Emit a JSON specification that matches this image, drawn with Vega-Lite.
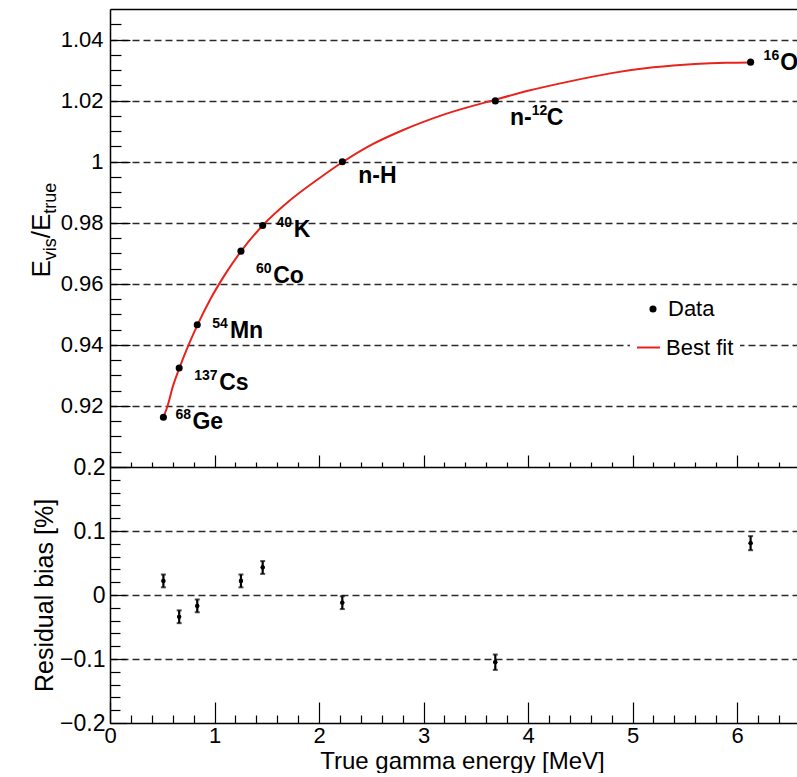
{
  "$schema": "https://vega.github.io/schema/vega-lite/v6.json",
  "background": "white",
  "padding": {"left": 28, "top": 9, "right": 0, "bottom": 0},
  "bounds": "flush",
  "spacing": 0,
  "config": {
    "font": "Liberation Sans",
    "view": {"stroke": null},
    "axis": {"domainColor": "black", "domainWidth": 1.5, "tickColor": "black", "tickWidth": 1.2, "labelColor": "black", "titleColor": "black", "titleFontWeight": "normal", "labelFlush": false, "labelOverlap": false, "labelBound": false, "gridColor": "#2a2a2a", "gridDash": [7, 4], "gridWidth": 1.3},
    "legend": {"labelFont": "Liberation Sans", "labelFontSize": 22, "labelColor": "black", "padding": 6, "fillColor": "white", "strokeColor": null}
  },
  "datasets": {
    "fit": [
      {"E": 0.511, "R": 0.9163}, {"E": 0.551, "R": 0.9200}, {"E": 0.6, "R": 0.9262}, {"E": 0.662, "R": 0.9322},
      {"E": 0.75, "R": 0.9398}, {"E": 0.835, "R": 0.9464}, {"E": 0.95, "R": 0.9543}, {"E": 1.1, "R": 0.9630},
      {"E": 1.253, "R": 0.9706}, {"E": 1.461, "R": 0.9791}, {"E": 1.7, "R": 0.9867}, {"E": 2.0, "R": 0.9945},
      {"E": 2.223, "R": 0.9998}, {"E": 2.5, "R": 1.0055}, {"E": 2.8, "R": 1.0103}, {"E": 3.2, "R": 1.0155},
      {"E": 3.687, "R": 1.0203}, {"E": 4.0, "R": 1.0232}, {"E": 4.4, "R": 1.0263}, {"E": 4.8, "R": 1.0290},
      {"E": 5.2, "R": 1.0309}, {"E": 5.6, "R": 1.0320}, {"E": 5.9, "R": 1.0324}, {"E": 6.13, "R": 1.0325}
    ],
    "pts": [
      {"id": "Ge", "pre": "", "sup": "68", "name": "Ge", "E": 0.511, "R": 0.9163},
      {"id": "Cs", "pre": "", "sup": "137", "name": "Cs", "E": 0.662, "R": 0.9324},
      {"id": "Mn", "pre": "", "sup": "54", "name": "Mn", "E": 0.835, "R": 0.9466},
      {"id": "Co", "pre": "", "sup": "60", "name": "Co", "E": 1.253, "R": 0.9707},
      {"id": "K", "pre": "", "sup": "40", "name": "K", "E": 1.461, "R": 0.9791},
      {"id": "H", "pre": "", "sup": "", "name": "n-H", "E": 2.223, "R": 1.0000},
      {"id": "C", "pre": "n-", "sup": "12", "name": "C", "E": 3.687, "R": 1.0199},
      {"id": "O", "pre": "", "sup": "16", "name": "O", "E": 6.13, "R": 1.0326}
    ],
    "res": [
      {"E": 0.511, "B": 0.022, "err": 0.010},
      {"E": 0.662, "B": -0.034, "err": 0.010},
      {"E": 0.835, "B": -0.017, "err": 0.010},
      {"E": 1.253, "B": 0.022, "err": 0.010},
      {"E": 1.461, "B": 0.043, "err": 0.010},
      {"E": 2.223, "B": -0.012, "err": 0.010},
      {"E": 3.687, "B": -0.105, "err": 0.012},
      {"E": 6.13, "B": 0.081, "err": 0.011}
    ]
  },
  "vconcat": [
    {
      "width": 687,
      "height": 458,
      "resolve": {"axis": {"x": "independent", "y": "independent"}},
      "layer": [
        {
          "data": {"name": "fit"},
          "mark": {"type": "line", "strokeWidth": 2, "clip": true, "interpolate": "monotone"},
          "encoding": {
            "x": {"field": "E", "type": "quantitative", "scale": {"domain": [0, 6.574], "nice": false, "zero": false},
              "axis": {"orient": "bottom", "title": null, "labels": false, "grid": false,
                "values": [0,0.2,0.4,0.6,0.8,1,1.2,1.4,1.6,1.8,2,2.2,2.4,2.6,2.8,3,3.2,3.4,3.6,3.8,4,4.2,4.4,4.6,4.8,5,5.2,5.4,5.6,5.8,6,6.2,6.4],
                "tickSize": {"condition": {"test": "abs(datum.value - round(datum.value)) < 0.001", "value": -12}, "value": -5}}},
            "y": {"field": "R", "type": "quantitative", "scale": {"domain": [0.9, 1.05], "nice": false, "zero": false},
              "axis": {"orient": "left", "title": "E", "titleFontSize": 26, "titleX": -61, "titleY": 268, "titleAngle": -90, "titleAlign": "left", "titleBaseline": "alphabetic",
                "labelFontSize": 22, "labelPadding": 7, "format": "~g", "ticks": false,
                "values": [0.92, 0.94, 0.96, 0.98, 1, 1.02, 1.04], "grid": true}},
            "stroke": {"datum": "Best fit", "scale": {"domain": ["Best fit"], "range": ["#e8231c"]},
              "legend": {"title": null, "orient": "none", "legendX": 520, "legendY": 320, "symbolType": "stroke", "symbolSize": 529, "symbolStrokeWidth": 2, "labelOffset": 5}}
          }
        },
        {
          "data": {"name": "pts"},
          "mark": {"type": "point", "filled": true, "opacity": 1, "size": 50},
          "encoding": {
            "x": {"field": "E", "type": "quantitative", "axis": {"orient": "top", "title": null, "labels": false, "ticks": false, "grid": false}},
            "y": {"field": "R", "type": "quantitative",
              "axis": {"orient": "left", "title": "vis", "titleFontSize": 18, "titleX": -55, "titleY": 250.7, "titleAngle": -90, "titleAlign": "left", "titleBaseline": "alphabetic",
                "labels": false, "domain": false, "grid": false,
                "values": [0.9,0.905,0.91,0.915,0.92,0.925,0.93,0.935,0.94,0.945,0.95,0.955,0.96,0.965,0.97,0.975,0.98,0.985,0.99,0.995,1,1.005,1.01,1.015,1.02,1.025,1.03,1.035,1.04,1.045],
                "tickSize": {"condition": {"test": "abs(datum.value*50 - round(datum.value*50)) < 0.001", "value": -20}, "value": -11}}},
            "color": {"datum": "Data", "scale": {"domain": ["Data"], "range": ["black"]},
              "legend": {"title": null, "orient": "none", "legendX": 526, "legendY": 283, "symbolType": "circle", "symbolSize": 50, "labelOffset": 4}}
          }
        },
        {"data": {"name": "pts"}, "transform": [{"filter": "datum.id === 'Ge'"}],
          "mark": {"type": "text", "align": "left", "baseline": "alphabetic", "dx": 12, "dy": 1.5, "fontSize": 14, "fontWeight": "bold", "clip": true},
          "encoding": {"x": {"field": "E", "type": "quantitative", "axis": null},
            "y": {"field": "R", "type": "quantitative", "axis": {"orient": "left", "title": "/E", "titleFontSize": 26, "titleX": -61, "titleY": 228.7, "titleAngle": -90, "titleAlign": "left", "titleBaseline": "alphabetic", "labels": false, "ticks": false, "domain": false, "grid": false, "values": [1]}},
            "text": {"field": "sup"}}},
        {"data": {"name": "pts"}, "transform": [{"filter": "datum.id === 'Ge'"}],
          "mark": {"type": "text", "align": "left", "baseline": "alphabetic", "dx": 29, "dy": 11.5, "fontSize": 23, "fontWeight": "bold", "clip": true},
          "encoding": {"x": {"field": "E", "type": "quantitative", "axis": null},
            "y": {"field": "R", "type": "quantitative", "axis": {"orient": "left", "title": "true", "titleFontSize": 18, "titleX": -55, "titleY": 204.2, "titleAngle": -90, "titleAlign": "left", "titleBaseline": "alphabetic", "labels": false, "ticks": false, "domain": false, "grid": false, "values": [1]}},
            "text": {"field": "name"}}},
        {"data": {"name": "pts"}, "transform": [{"filter": "datum.id === 'Cs'"}],
          "mark": {"type": "text", "align": "left", "baseline": "alphabetic", "dx": 15, "dy": 11.7, "fontSize": 14, "fontWeight": "bold", "clip": true},
          "encoding": {"x": {"field": "E", "type": "quantitative", "axis": null}, "y": {"field": "R", "type": "quantitative", "axis": null}, "text": {"field": "sup"}}},
        {"data": {"name": "pts"}, "transform": [{"filter": "datum.id === 'Cs'"}],
          "mark": {"type": "text", "align": "left", "baseline": "alphabetic", "dx": 40, "dy": 21.7, "fontSize": 23, "fontWeight": "bold", "clip": true},
          "encoding": {"x": {"field": "E", "type": "quantitative", "axis": null}, "y": {"field": "R", "type": "quantitative", "axis": null}, "text": {"field": "name"}}},
        {"data": {"name": "pts"}, "transform": [{"filter": "datum.id === 'Mn'"}],
          "mark": {"type": "text", "align": "left", "baseline": "alphabetic", "dx": 15, "dy": 3.3, "fontSize": 14, "fontWeight": "bold", "clip": true},
          "encoding": {"x": {"field": "E", "type": "quantitative", "axis": null}, "y": {"field": "R", "type": "quantitative", "axis": null}, "text": {"field": "sup"}}},
        {"data": {"name": "pts"}, "transform": [{"filter": "datum.id === 'Mn'"}],
          "mark": {"type": "text", "align": "left", "baseline": "alphabetic", "dx": 32.7, "dy": 13.3, "fontSize": 23, "fontWeight": "bold", "clip": true},
          "encoding": {"x": {"field": "E", "type": "quantitative", "axis": null}, "y": {"field": "R", "type": "quantitative", "axis": null}, "text": {"field": "name"}}},
        {"data": {"name": "pts"}, "transform": [{"filter": "datum.id === 'Co'"}],
          "mark": {"type": "text", "align": "left", "baseline": "alphabetic", "dx": 15, "dy": 22.3, "fontSize": 14, "fontWeight": "bold", "clip": true},
          "encoding": {"x": {"field": "E", "type": "quantitative", "axis": null}, "y": {"field": "R", "type": "quantitative", "axis": null}, "text": {"field": "sup"}}},
        {"data": {"name": "pts"}, "transform": [{"filter": "datum.id === 'Co'"}],
          "mark": {"type": "text", "align": "left", "baseline": "alphabetic", "dx": 32.3, "dy": 32.3, "fontSize": 23, "fontWeight": "bold", "clip": true},
          "encoding": {"x": {"field": "E", "type": "quantitative", "axis": null}, "y": {"field": "R", "type": "quantitative", "axis": null}, "text": {"field": "name"}}},
        {"data": {"name": "pts"}, "transform": [{"filter": "datum.id === 'K'"}],
          "mark": {"type": "text", "align": "left", "baseline": "alphabetic", "dx": 13.7, "dy": 1.7, "fontSize": 14, "fontWeight": "bold", "clip": true},
          "encoding": {"x": {"field": "E", "type": "quantitative", "axis": null}, "y": {"field": "R", "type": "quantitative", "axis": null}, "text": {"field": "sup"}}},
        {"data": {"name": "pts"}, "transform": [{"filter": "datum.id === 'K'"}],
          "mark": {"type": "text", "align": "left", "baseline": "alphabetic", "dx": 31, "dy": 11.7, "fontSize": 23, "fontWeight": "bold", "clip": true},
          "encoding": {"x": {"field": "E", "type": "quantitative", "axis": null}, "y": {"field": "R", "type": "quantitative", "axis": null}, "text": {"field": "name"}}},
        {"data": {"name": "pts"}, "transform": [{"filter": "datum.id === 'H'"}],
          "mark": {"type": "text", "align": "left", "baseline": "alphabetic", "dx": 16, "dy": 21, "fontSize": 23, "fontWeight": "bold", "clip": true},
          "encoding": {"x": {"field": "E", "type": "quantitative", "axis": null}, "y": {"field": "R", "type": "quantitative", "axis": null}, "text": {"field": "name"}}},
        {"data": {"name": "pts"}, "transform": [{"filter": "datum.id === 'C'"}],
          "mark": {"type": "text", "align": "left", "baseline": "alphabetic", "dx": 14.7, "dy": 24, "fontSize": 23, "fontWeight": "bold", "clip": true},
          "encoding": {"x": {"field": "E", "type": "quantitative", "axis": null}, "y": {"field": "R", "type": "quantitative", "axis": null}, "text": {"field": "pre"}}},
        {"data": {"name": "pts"}, "transform": [{"filter": "datum.id === 'C'"}],
          "mark": {"type": "text", "align": "left", "baseline": "alphabetic", "dx": 36.4, "dy": 14, "fontSize": 14, "fontWeight": "bold", "clip": true},
          "encoding": {"x": {"field": "E", "type": "quantitative", "axis": null}, "y": {"field": "R", "type": "quantitative", "axis": null}, "text": {"field": "sup"}}},
        {"data": {"name": "pts"}, "transform": [{"filter": "datum.id === 'C'"}],
          "mark": {"type": "text", "align": "left", "baseline": "alphabetic", "dx": 51.4, "dy": 24, "fontSize": 23, "fontWeight": "bold", "clip": true},
          "encoding": {"x": {"field": "E", "type": "quantitative", "axis": null}, "y": {"field": "R", "type": "quantitative", "axis": null}, "text": {"field": "name"}}},
        {"data": {"name": "pts"}, "transform": [{"filter": "datum.id === 'O'"}],
          "mark": {"type": "text", "align": "left", "baseline": "alphabetic", "dx": 13, "dy": -2, "fontSize": 14, "fontWeight": "bold", "clip": true},
          "encoding": {"x": {"field": "E", "type": "quantitative", "axis": null}, "y": {"field": "R", "type": "quantitative", "axis": null}, "text": {"field": "sup"}}},
        {"data": {"name": "pts"}, "transform": [{"filter": "datum.id === 'O'"}],
          "mark": {"type": "text", "align": "left", "baseline": "alphabetic", "dx": 29.7, "dy": 8, "fontSize": 23, "fontWeight": "bold", "clip": true},
          "encoding": {"x": {"field": "E", "type": "quantitative", "axis": null}, "y": {"field": "R", "type": "quantitative", "axis": null}, "text": {"field": "name"}}}
      ]
    },
    {
      "width": 687,
      "height": 256,
      "resolve": {"axis": {"x": "independent", "y": "independent"}},
      "layer": [
        {
          "data": {"name": "res"},
          "mark": {"type": "errorbar", "ticks": {"size": 5, "thickness": 2, "color": "black"}, "thickness": 2.2, "color": "black"},
          "encoding": {
            "x": {"field": "E", "type": "quantitative", "scale": {"domain": [0, 6.574], "nice": false, "zero": false},
              "axis": {"orient": "bottom", "title": "True gamma energy [MeV]", "titleFontSize": 24, "titleX": 352, "titlePadding": 3,
                "labelFontSize": 22, "labelPadding": 2, "format": "~g", "ticks": false, "grid": false,
                "values": [0, 1, 2, 3, 4, 5, 6]}},
            "y": {"field": "B", "type": "quantitative", "scale": {"domain": [-0.2, 0.2], "nice": false, "zero": false},
              "axis": {"orient": "left", "title": "Residual bias [%]", "titleFontSize": 25, "titleX": -58, "titleY": 128, "titleAngle": -90, "titleAlign": "center", "titleBaseline": "alphabetic",
                "labelFontSize": 23, "labelPadding": 5, "format": "~g", "ticks": false, "grid": false,
                "values": [-0.2, -0.1, 0, 0.1, 0.2]}},
            "yError": {"field": "err"}
          }
        },
        {
          "data": {"name": "res"},
          "mark": {"type": "point", "filled": true, "opacity": 1, "size": 18, "color": "black"},
          "encoding": {
            "x": {"field": "E", "type": "quantitative",
              "axis": {"orient": "bottom", "title": null, "labels": false, "domain": false, "grid": false,
                "values": [0,0.2,0.4,0.6,0.8,1,1.2,1.4,1.6,1.8,2,2.2,2.4,2.6,2.8,3,3.2,3.4,3.6,3.8,4,4.2,4.4,4.6,4.8,5,5.2,5.4,5.6,5.8,6,6.2,6.4],
                "tickSize": {"condition": {"test": "abs(datum.value - round(datum.value)) < 0.001", "value": -21}, "value": -8}}},
            "y": {"field": "B", "type": "quantitative",
              "axis": {"orient": "left", "title": null, "labels": false, "domain": false, "grid": false,
                "values": [-0.2,-0.18,-0.16,-0.14,-0.12,-0.1,-0.08,-0.06,-0.04,-0.02,0,0.02,0.04,0.06,0.08,0.1,0.12,0.14,0.16,0.18,0.2],
                "tickSize": {"condition": {"test": "abs(datum.value*10 - round(datum.value*10)) < 0.001", "value": -16}, "value": -10}}}
          }
        },
        {
          "data": {"name": "res"},
          "mark": {"type": "point", "filled": true, "opacity": 1, "size": 18, "color": "black"},
          "encoding": {
            "x": {"field": "E", "type": "quantitative", "axis": null},
            "y": {"field": "B", "type": "quantitative",
              "axis": {"orient": "left", "title": null, "labels": false, "ticks": false, "domain": false, "grid": true, "values": [-0.1, 0, 0.1]}}
          }
        }
      ]
    }
  ]
}
